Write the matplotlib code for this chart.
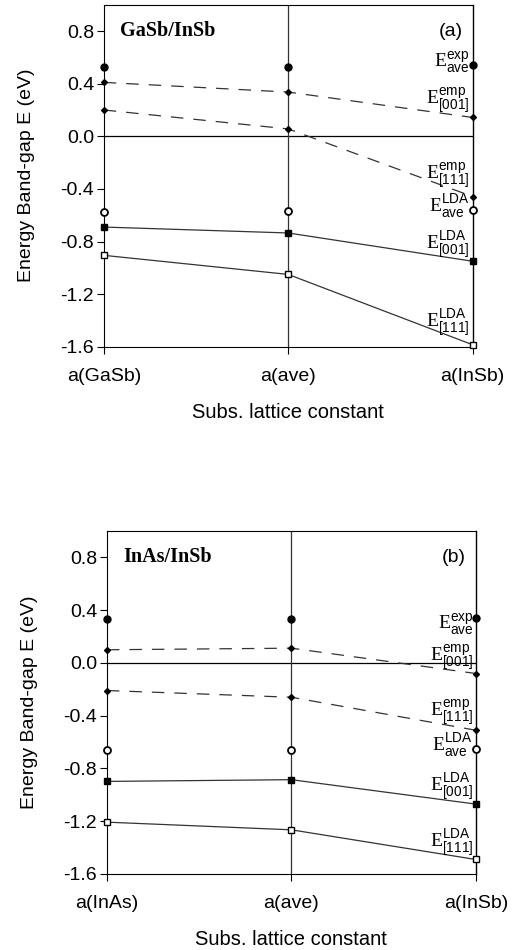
import numpy as np
import matplotlib
matplotlib.use('Agg')
import matplotlib.pyplot as plt

plt.rcParams['font.family'] = ['Liberation Sans', 'DejaVu Sans']
plt.rcParams['mathtext.fontset'] = 'custom'
plt.rcParams['mathtext.rm'] = 'Liberation Serif'
plt.rcParams['mathtext.sf'] = 'Liberation Sans'

# substrate lattice constant positions
xpos = [0, 1, 2]
xlabels_a = ['a(GaSb)', 'a(ave)', 'a(InSb)']
xlabels_b = ['a(InAs)', 'a(ave)', 'a(InSb)']
yticks = [-1.6, -1.2, -0.8, -0.4, 0.0, 0.4, 0.8]

# panel (a) GaSb/InSb
a_exp_ave = [0.527, 0.53, 0.54]
a_emp_001 = [0.41, 0.336, 0.143]
a_emp_111 = [0.20, 0.056, -0.458]
a_lda_ave = [-0.573, -0.565, -0.557]
a_lda_001 = [-0.69, -0.735, -0.95]
a_lda_111 = [-0.905, -1.05, -1.585]

# panel (b) InAs/InSb
b_exp_ave = [0.33, 0.336, 0.338]
b_emp_001 = [0.10, 0.112, -0.08]
b_emp_111 = [-0.209, -0.26, -0.51]
b_lda_ave = [-0.657, -0.657, -0.65]
b_lda_001 = [-0.898, -0.885, -1.07]
b_lda_111 = [-1.207, -1.265, -1.49]

labels = [r'$\mathrm{E}^{\mathsf{exp}}_{\mathsf{ave}}$',
          r'$\mathrm{E}^{\mathsf{emp}}_{\mathsf{[001]}}$',
          r'$\mathrm{E}^{\mathsf{emp}}_{\mathsf{[111]}}$',
          r'$\mathrm{E}^{\mathsf{LDA}}_{\mathsf{ave}}$',
          r'$\mathrm{E}^{\mathsf{LDA}}_{\mathsf{[001]}}$',
          r'$\mathrm{E}^{\mathsf{LDA}}_{\mathsf{[111]}}$']
label_y_a = [0.56, 0.27, -0.30, -0.54, -0.83, -1.42]
label_y_b = [0.29, 0.04, -0.376, -0.63, -0.94, -1.365]


def panel(ax, series, xlabels, label_y, title, tag):
    exp_ave, emp_001, emp_111, lda_ave, lda_001, lda_111 = series
    lc = '#333333'
    ax.axhline(0, color='black', lw=0.9, zorder=1)
    ax.axvline(1, color=lc, lw=0.9, zorder=1)
    ax.axvline(2, color='black', lw=1.0, zorder=1, clip_on=False)
    ax.plot(xpos, exp_ave, 'o', color='black', ms=5, zorder=3, clip_on=False)
    dash = (0, (10, 8))
    ax.plot(xpos, emp_001, color=lc, lw=0.9, ls=dash, marker='D', ms=3,
            mfc='black', mec='black', zorder=3, clip_on=False)
    ax.plot(xpos, emp_111, color=lc, lw=0.9, ls=dash, marker='D', ms=3,
            mfc='black', mec='black', zorder=3, clip_on=False)
    ax.plot(xpos, lda_ave, 'o', mfc='white', mec='black', mew=1.3, ms=5,
            zorder=3, clip_on=False)
    ax.plot(xpos, lda_001, color=lc, lw=0.9, marker='s', ms=5,
            mfc='black', mec='black', zorder=3, clip_on=False)
    ax.plot(xpos, lda_111, color=lc, lw=0.9, marker='s', ms=5,
            mfc='white', mec='black', mew=1.0, zorder=3, clip_on=False)
    for lab, ly in zip(labels, label_y):
        ax.text(1.985, ly, lab, ha='right', va='center', fontsize=14)
    ax.text(0.09, 0.8, title, ha='left', va='center', fontsize=14.5,
            fontweight='bold', family='Liberation Serif')
    ax.text(1.88, 0.8, tag, ha='center', va='center', fontsize=14)

    ax.set_xlim(0, 2)
    ax.set_ylim(-1.6, 1.0)
    ax.set_yticks(yticks)
    ax.set_yticklabels(['%.1f' % v for v in yticks])
    ax.set_xticks(xpos)
    ax.set_xticklabels(xlabels)
    ax.tick_params(direction='out', length=5, labelsize=14)
    ax.tick_params(axis='y', pad=2)
    ax.tick_params(axis='x', pad=10)
    ax.spines['right'].set_visible(False)
    ax.set_xlabel('Subs. lattice constant', fontsize=14.5, labelpad=13)
    ax.set_ylabel('Energy Band-gap E (eV)', fontsize=14, labelpad=18)


fig = plt.figure(figsize=(5.24, 9.5), dpi=100)
ax1 = fig.add_axes([0.198, 0.635, 0.704, 0.36])
ax2 = fig.add_axes([0.204, 0.080, 0.704, 0.361])

panel(ax1, [a_exp_ave, a_emp_001, a_emp_111, a_lda_ave, a_lda_001, a_lda_111],
      xlabels_a, label_y_a, 'GaSb/InSb', '(a)')
panel(ax2, [b_exp_ave, b_emp_001, b_emp_111, b_lda_ave, b_lda_001, b_lda_111],
      xlabels_b, label_y_b, 'InAs/InSb', '(b)')

fig.savefig('out.png', dpi=100)
